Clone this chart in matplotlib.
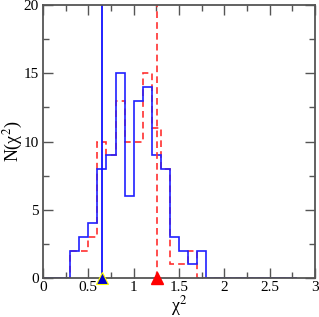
import numpy as np
import matplotlib
matplotlib.use("Agg")
import matplotlib.pyplot as plt
from matplotlib.ticker import MultipleLocator

plt.rcParams['font.family'] = ['Liberation Serif', 'DejaVu Serif']
plt.rcParams['mathtext.fontset'] = 'stix'

# histogram bins 0.0 .. 2.8, width 0.1
bin_edges = np.round(np.arange(0, 2.81, 0.1), 1)
blue_counts = [0, 0, 0, 2, 3, 4, 8, 9, 15, 6, 13, 14, 9, 8, 3, 2, 1, 2,
               0, 0, 0, 0, 0, 0, 0, 0, 0, 0]
red_counts = [0, 0, 0, 2, 2, 3, 10, 9, 13, 10, 10, 15, 11, 8, 1, 1, 2, 0,
              0, 0, 0, 0, 0, 0, 0, 0, 0, 0]
blue_mark = 0.65
red_mark = 1.26
xtick_labels = ['0', '0.5', '1', '1.5', '2', '2.5', '3']

fig = plt.figure(figsize=(3.19, 3.17), dpi=100)
ax = fig.add_axes([0.135, 0.123, 0.852, 0.861])

ax.stairs(red_counts, bin_edges, color='#ff3030', lw=1.2, ls=(0, (4, 2.5)))
ax.stairs(blue_counts, bin_edges, color='#2020ff', lw=1.2)
ax.axvline(red_mark, color='#ff3030', lw=1.2, ls=(0, (4, 2.5)))
ax.axvline(blue_mark, color='#1010ff', lw=1.3)
ax.plot([red_mark], [0], marker='^', ms=9, color='red', mec='red', clip_on=False, zorder=5)
ax.plot([blue_mark], [0], marker='^', ms=9, color='#0000cc', mec='yellow', mew=0.8,
        clip_on=False, zorder=5)

ax.set_xlim(0, 3)
ax.set_ylim(0, 20)
ax.set_xticks([0, 0.5, 1, 1.5, 2, 2.5, 3])
ax.set_xticklabels(xtick_labels)
ax.xaxis.set_minor_locator(MultipleLocator(0.25))
ax.yaxis.set_major_locator(MultipleLocator(5))
ax.yaxis.set_minor_locator(MultipleLocator(2.5))
ax.tick_params(which='both', direction='in', top=True, right=True,
               color='#555555', labelsize=11)
ax.tick_params(axis='x', pad=2)
ax.tick_params(axis='y', pad=3)
ax.tick_params(which='major', length=7, width=1)
ax.tick_params(which='minor', length=4, width=1)
for s in ax.spines.values():
    s.set_color('#555555')
    s.set_linewidth(1.3)

ax.set_xlabel('χ$^2$', fontsize=13, labelpad=0)
ax.set_ylabel('N(χ$^2$)', fontsize=13, va='center')
ax.yaxis.set_label_coords(-0.11, 0.5)

fig.savefig('out.png', dpi=100)
